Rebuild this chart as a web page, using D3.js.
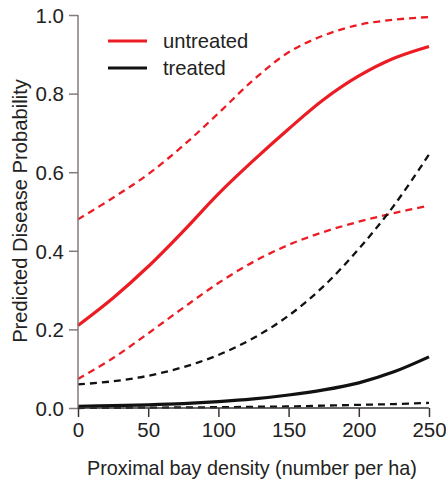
<!DOCTYPE html>
<html>
<head>
<meta charset="utf-8">
<script src="https://cdn.jsdelivr.net/npm/d3@7"></script>
<style>
	body { margin: 0; background: #fff; }
	text { font-family: "Liberation Sans", Arial, sans-serif; fill: #222; }
</style>
</head>
<body>
<div id="chartbox"></div>
<script>
var W = 446;
var H = 487;

// bay density, number per ha
var density = [0, 25, 50, 75, 100, 125, 150, 175, 200, 225, 250];

// predicted disease probability
var untreatedFit = [0.21, 0.28, 0.36, 0.45, 0.545, 0.63, 0.71, 0.785, 0.845, 0.89, 0.92];
var untreatedUpper = [0.48, 0.535, 0.595, 0.668, 0.75, 0.835, 0.905, 0.948, 0.975, 0.988, 0.995];
var untreatedLower = [0.074, 0.127, 0.19, 0.255, 0.318, 0.372, 0.415, 0.448, 0.474, 0.496, 0.515];
var treatedFit = [0.004, 0.006, 0.008, 0.011, 0.016, 0.023, 0.033, 0.046, 0.064, 0.092, 0.13];
var treatedUpper = [0.06, 0.068, 0.082, 0.104, 0.135, 0.178, 0.235, 0.31, 0.405, 0.515, 0.645];
var treatedLower = [0.0, 0.0005, 0.001, 0.0015, 0.002, 0.003, 0.004, 0.006, 0.008, 0.01, 0.013];

var xTicks = [0, 50, 100, 150, 200, 250];
var yTicks = [0, 0.2, 0.4, 0.6, 0.8, 1.0];

var legendNames = ["untreated", "treated"];
var RED = "#ec1c24";
var BLACK = "#111";

var x = d3.scaleLinear().domain([0, 250]).range([78, 429]);
var y = d3.scaleLinear().domain([0, 1]).range([408, 15]);

var svg = d3.select("#chartbox").append("svg")
	.attr("width", W)
	.attr("height", H);

function drawSeries(values, color, width, dashed) {
	var line = d3.line()
		.x(function (d, i) { return x(density[i]); })
		.y(function (d) { return y(d); })
		.curve(d3.curveCatmullRom);
	svg.append("path")
		.datum(values)
		.attr("d", line)
		.attr("fill", "none")
		.attr("stroke", color)
		.attr("stroke-width", width)
		.attr("stroke-dasharray", dashed ? "7,5" : null);
}

drawSeries(untreatedUpper, RED, 2.3, true);
drawSeries(untreatedLower, RED, 2.3, true);
drawSeries(treatedUpper, BLACK, 2.3, true);
drawSeries(treatedLower, BLACK, 2.3, true);
drawSeries(untreatedFit, RED, 3.2, false);
drawSeries(treatedFit, BLACK, 3.2, false);

//axes
var yAxis = svg.append("g")
	.attr("transform", "translate(78,0)")
	.call(d3.axisLeft(y).tickValues(yTicks).tickFormat(d3.format(".1f")).tickSize(9).tickPadding(5));
yAxis.select(".domain").attr("d", "M0,15V408");
yAxis.selectAll("path, line").attr("stroke", "#85797a").attr("stroke-width", 1.5);
yAxis.selectAll("text").attr("font-size", 20.5).attr("dy", "0.36em");

var xAxis = svg.append("g")
	.attr("transform", "translate(0,408)")
	.call(d3.axisBottom(x).tickValues(xTicks).tickFormat(d3.format("d")).tickSize(9).tickPadding(5));
xAxis.select(".domain").attr("d", "M78,0H429");
xAxis.selectAll("path, line").attr("stroke", "#3a3535").attr("stroke-width", 1.5);
xAxis.selectAll("text").attr("font-size", 20.5);

svg.selectAll(".tick text").style("font-family", "'Liberation Sans', Arial, sans-serif").attr("fill", "#222");

// axis titles
svg.append("text")
	.attr("x", 252)
	.attr("y", 475)
	.attr("text-anchor", "middle")
	.attr("font-size", 19.8)
	.text("Proximal bay density (number per ha)");

svg.append("text")
	.attr("transform", "translate(27,211) rotate(-90)")
	.attr("text-anchor", "middle")
	.attr("font-size", 20.2)
	.text("Predicted Disease Probability");

// legend
var legend = svg.append("g");
legendNames.forEach(function (name, i) {
	var ly = 41 + i * 27;
	legend.append("line")
		.attr("x1", 108).attr("x2", 147)
		.attr("y1", ly).attr("y2", ly)
		.attr("stroke", i === 0 ? RED : BLACK)
		.attr("stroke-width", 3.2);
	legend.append("text")
		.attr("x", 163)
		.attr("y", ly + 7)
		.attr("font-size", 20.2)
		.text(name);
});
</script>
</body>
</html>
